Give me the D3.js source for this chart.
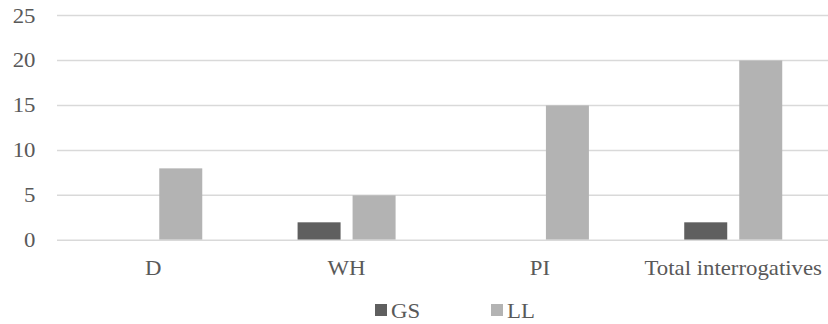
<!DOCTYPE html>
<html><head><meta charset="utf-8"><script src="https://cdn.jsdelivr.net/npm/d3@7"></script></head>
<body style="margin:0">
<svg id="chart" width="828" height="324"></svg>
<script>
// Question types and counts per speaker
const categories = ["D", "WH", "PI", "Total interrogatives"];
const seriesNames = ["GS", "LL"];
const gsValues = [0, 2, 0, 2];
const llValues = [8, 5, 15, 20];
const yTicks = [0, 5, 10, 15, 20, 25];

const colors = { GS: "#5f5f5f", LL: "#b3b3b3" };
const fontFamily = "'Liberation Serif'";
const textColor = "#595959";
const fontSize = 20;
const stretch = 1.14;

const svg = d3.select("#chart");

const x = d3.scaleBand().domain(categories).range([56.6, 829.9]).padding(0);
const y = d3.scaleLinear().domain([0, 25]).range([240.3, 15.5]);

const groupWidth = 98;
const xSub = d3.scaleBand()
  .domain(seriesNames)
  .range([0, groupWidth])
  .paddingInner(12 / 55)
  .paddingOuter(0);

// Horizontal gridlines
svg.append("g")
  .selectAll("line")
  .data(yTicks)
  .join("line")
  .attr("x1", 57)
  .attr("x2", 828)
  .attr("y1", d => y(d))
  .attr("y2", d => y(d))
  .attr("stroke", "#d9d9d9")
  .attr("stroke-width", 1.5);

// Y tick labels
svg.append("g")
  .selectAll("text")
  .data(yTicks)
  .join("text")
  .attr("text-anchor", "end")
  .attr("font-family", fontFamily)
  .attr("font-size", fontSize)
  .attr("fill", textColor)
  .attr("transform", d => `translate(35.5,${y(d) + 7}) scale(${stretch},1)`)
  .text(d => String(d));

// Bars
const rows = categories.map((c, i) => ({ category: c, GS: gsValues[i], LL: llValues[i] }));
const groups = svg.append("g")
  .selectAll("g")
  .data(rows)
  .join("g")
  .attr("transform", d => `translate(${x(d.category) + x.bandwidth() / 2 - groupWidth / 2},0)`);

groups.selectAll("rect")
  .data(d => seriesNames.map(s => ({ series: s, value: d[s] })).filter(v => v.value > 0))
  .join("rect")
  .attr("x", d => xSub(d.series))
  .attr("width", xSub.bandwidth())
  .attr("y", d => y(d.value))
  .attr("height", d => y(0) - y(d.value) - 0.75)
  .attr("fill", d => colors[d.series]);

// Category labels
svg.append("g")
  .selectAll("text")
  .data(categories)
  .join("text")
  .attr("text-anchor", "middle")
  .attr("font-family", fontFamily)
  .attr("font-size", fontSize)
  .attr("fill", textColor)
  .attr("transform", d => `translate(${x(d) + x.bandwidth() / 2},274.5) scale(${stretch},1)`)
  .text(d => d);

// Legend
const legendX = [375, 491];
const legend = svg.append("g")
  .selectAll("g")
  .data(seriesNames)
  .join("g")
  .attr("transform", (d, i) => `translate(${legendX[i]},304)`);

legend.append("rect")
  .attr("width", 12)
  .attr("height", 12)
  .attr("fill", d => colors[d]);

legend.append("text")
  .attr("font-family", fontFamily)
  .attr("font-size", fontSize)
  .attr("fill", textColor)
  .attr("transform", `translate(16,14) scale(${stretch},1)`)
  .text(d => d);
</script>
</body></html>
